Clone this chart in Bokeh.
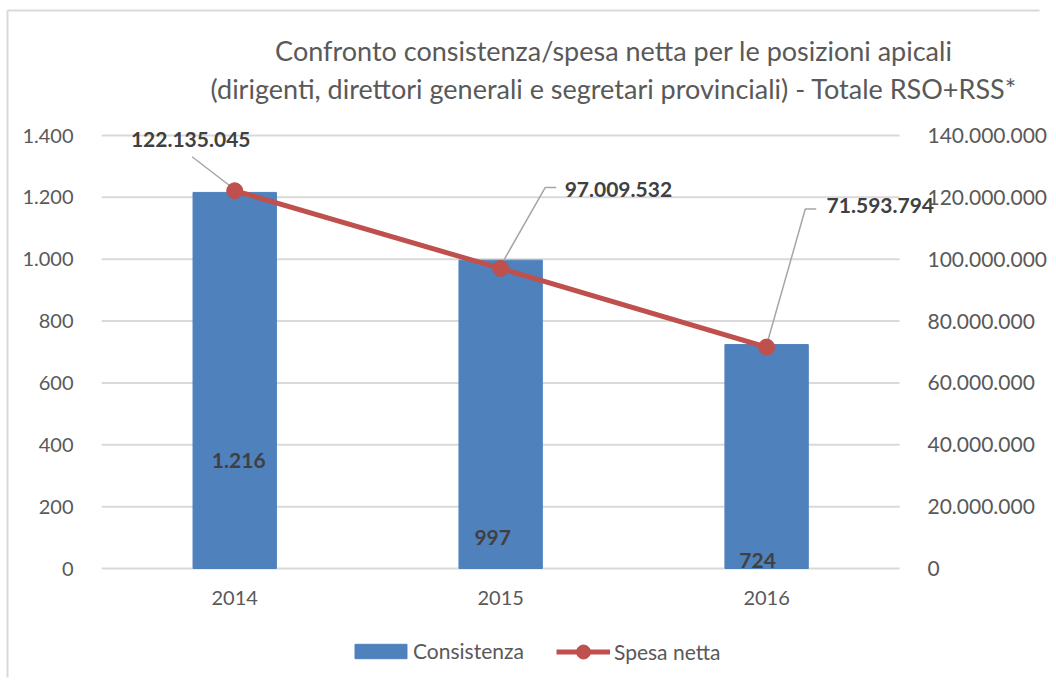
from bokeh.plotting import figure
from bokeh.models import Range1d, LinearAxis, FixedTicker, Legend, LegendItem
from bokeh.embed import file_html
from bokeh.resources import INLINE
from bokeh.core.properties import value

# ---------------- data ----------------
years = ["2014", "2015", "2016"]
consistenza = [1216, 997, 724]
spesa_netta = [122135045, 97009532, 71593794]
left_ticks = [0, 200, 400, 600, 800, 1000, 1200, 1400]
right_ticks = [0, 20000000, 40000000, 60000000, 80000000, 100000000,
               120000000, 140000000]
title_lines = ["Confronto consistenza/spesa netta per le posizioni apicali",
               "(dirigenti, direttori generali e segretari provinciali) - Totale RSO+RSS*"]


def it(n):
    return f"{int(n):,}".replace(",", ".")


# ---------------- layout (pixels on the canvas) ----------------
W, H = 1050, 680
PL, PR, PT, PB = 102, 906, 135, 568      # plot area of the original chart
FL, FR, FT, FB = 3, W - 3, 3, H - 3      # bokeh frame (whole canvas, no clipping)
LMAX, RMAX = 1400, 140000000
FONT = "Lato"
GREY_TXT = "#595959"
DARK_TXT = "#404040"
BLUE = "#4F81BD"
RED = "#C0504D"
GRID = "#D9D9D9"

ncat = len(years)
px_x = (PR - PL) / ncat
px_l = (PB - PT) / LMAX
px_r = (PB - PT) / RMAX


def x_of(px):
    return 0.5 + (px - PL) / px_x


def yl_of(py):
    return (PB - py) / px_l


def yr_of(py):
    return (PB - py) / px_r


xs = list(range(1, ncat + 1))
p = figure(width=W, height=H, output_backend="svg", toolbar_location=None,
           x_range=Range1d(x_of(FL), x_of(FR)),
           y_range=Range1d(yl_of(FB), yl_of(FT)),
           min_border_left=FL, min_border_right=W - FR, min_border_top=FT,
           min_border_bottom=H - FB)
p.extra_y_ranges = {"right": Range1d(yr_of(FB), yr_of(FT))}
p.outline_line_color = None
p.background_fill_color = "white"
p.border_fill_color = "white"
p.xgrid.visible = False
p.ygrid.visible = False

# chart border (light grey frame of the original)
p.segment(x0=[x_of(7), x_of(7)], y0=[yl_of(10), yl_of(10)],
          x1=[x_of(7), x_of(W + 10)], y1=[yl_of(H + 10), yl_of(10)],
          line_color=GRID, line_width=2)

# axes
p.yaxis.ticker = FixedTicker(ticks=left_ticks)
p.yaxis.major_label_overrides = {t: it(t) for t in left_ticks}
ax_r = LinearAxis(y_range_name="right", ticker=FixedTicker(ticks=right_ticks))
ax_r.major_label_overrides = {t: it(t) for t in right_ticks}
p.add_layout(ax_r, "right")
p.xaxis.ticker = FixedTicker(ticks=xs)
p.xaxis.major_label_overrides = {x: y for x, y in zip(xs, years)}

for ax in [p.yaxis[0], ax_r, p.xaxis[0]]:
    ax.major_tick_line_color = None
    ax.minor_tick_line_color = None
    ax.axis_line_color = None
    ax.major_label_text_font = FONT
    ax.major_label_text_color = GREY_TXT
p.yaxis[0].major_label_text_font_size = "20px"
ax_r.major_label_text_font_size = "21px"
p.xaxis[0].major_label_text_font_size = "20px"
p.yaxis[0].major_label_standoff = FL - 79
ax_r.major_label_standoff = 929 - FR
p.xaxis[0].major_label_standoff = 584 - FB

# horizontal gridlines limited to the original plot area
p.segment(x0=[x_of(PL)] * len(left_ticks), x1=[x_of(PR)] * len(left_ticks),
          y0=left_ticks, y1=left_ticks, line_color=GRID, line_width=2)

# bars
bars = p.vbar(x=xs, top=consistenza, width=84 / px_x, color=BLUE)

# bar labels (positioned inside the bars as in the original)
bar_label_y = [349, 100, 26]
bar_label_dx = [4, -8, -9]
p.text(x=xs, y=bar_label_y, text=[it(v) for v in consistenza],
       x_offset=bar_label_dx, text_align="center", text_baseline="middle",
       text_font=value(FONT), text_font_style="bold", text_font_size="21px",
       text_color=DARK_TXT)

# leader lines for line labels (pixel offsets relative to the point, y down)
leader_px = [
    [(-43, -34), (-1, -2)],
    [(56, -81), (45, -81), (-1, -1)],
    [(50, -138), (39, -138), (0, -2)],
]
lx, ly = [], []
for x, v, pts in zip(xs, spesa_netta, leader_px):
    lx.append([x + dx / px_x for dx, dy in pts])
    ly.append([v - dy / px_r for dx, dy in pts])
p.multi_line(lx, ly, y_range_name="right", line_color="#A6A6A6", line_width=1.5)

line = p.line(xs, spesa_netta, y_range_name="right", line_color=RED, line_width=5)
dots = p.scatter(xs, spesa_netta, y_range_name="right", size=16, color=RED)

# line labels
lab_dx = [-44, 64, 60]
lab_dy = [-51, -79, -142]
lab_align = ["center", "left", "left"]
for x, v, dx, dy, al in zip(xs, spesa_netta, lab_dx, lab_dy, lab_align):
    p.text(x=[x], y=[v], text=[it(v)], x_offset=dx, y_offset=dy,
           y_range_name="right", text_align=al, text_baseline="middle",
           text_font=value(FONT), text_font_style="bold", text_font_size="21px",
           text_color=DARK_TXT)

# title (two centred lines)
p.text(x=[x_of(618)] * 2, y=[yl_of(50), yl_of(88)], text=title_lines,
       text_align="center", text_baseline="middle", text_font=value(FONT),
       text_font_size="27px", text_color=GREY_TXT)

# legends (two, so that the marker can be drawn at its original size)
leg_common = dict(orientation="horizontal", label_text_font=FONT,
                  label_text_font_size="21px", label_text_color=GREY_TXT,
                  border_line_color=None, background_fill_alpha=0,
                  padding=0, margin=0, spacing=0)
leg1 = Legend(items=[LegendItem(label="Consistenza", renderers=[bars])],
              location=(348 - FL, FB - 663), glyph_width=65, glyph_height=18,
              label_standoff=0, **leg_common)
leg2 = Legend(items=[LegendItem(label="Spesa netta", renderers=[line, dots])],
              location=(556 - FL, FB - 669), glyph_width=54, glyph_height=35,
              label_standoff=4, **leg_common)
p.add_layout(leg1)
p.add_layout(leg2)

open("out.html", "w").write(file_html(p, INLINE))
